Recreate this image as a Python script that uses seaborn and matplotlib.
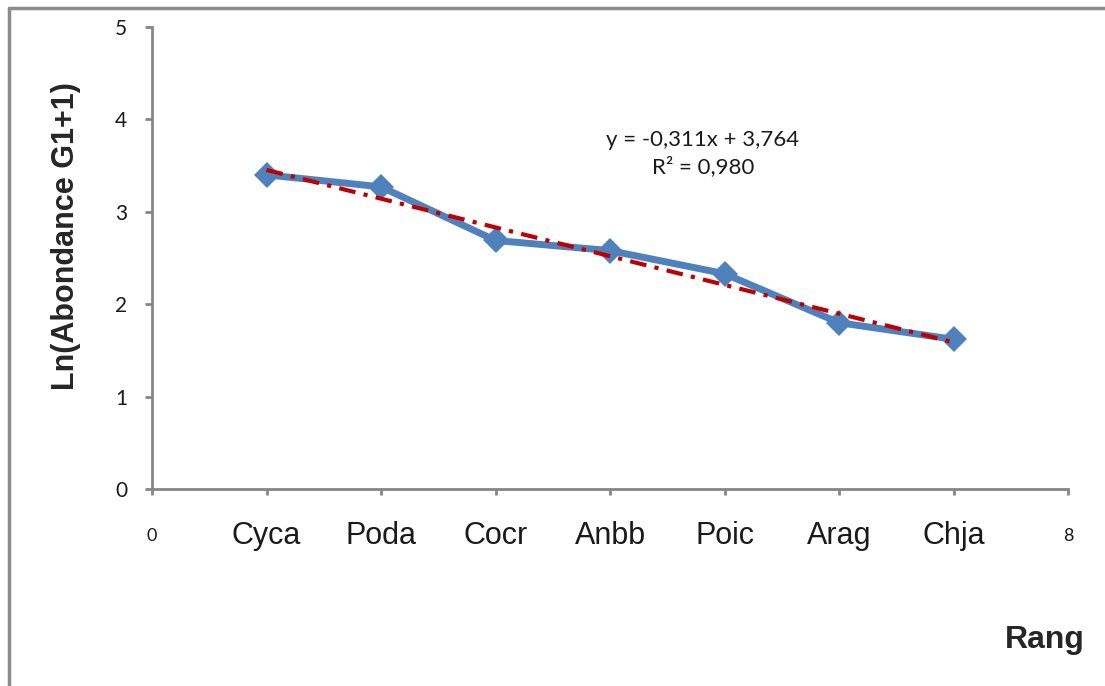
import matplotlib
matplotlib.use("Agg")
import matplotlib.pyplot as plt
from matplotlib.lines import Line2D
import numpy as np
import pandas as pd
import seaborn as sns

# Species ranked by abundance and their log-transformed abundance
species = ["Cyca", "Poda", "Cocr", "Anbb", "Poic", "Arag", "Chja"]
rang = [1, 2, 3, 4, 5, 6, 7]
ln_abondance = [3.40, 3.27, 2.69, 2.58, 2.33, 1.80, 1.62]

# Linear trend coefficients as reported on the chart
slope = -0.311
intercept = 3.764
r2 = 0.980

# Axis tick labels: numeric ends with species names in between
xtick_pos = [0, 1, 2, 3, 4, 5, 6, 7, 8]
xtick_labels = ["0"] + species + ["8"]
ytick_pos = [0, 1, 2, 3, 4, 5]

df = pd.DataFrame({"rang": rang, "val": ln_abondance, "species": species})
trend = pd.DataFrame({"rang": rang})
trend["fit"] = slope * trend["rang"] + intercept

sns.set_theme(style="white")
plt.rcParams["font.family"] = ["Liberation Sans", "DejaVu Sans"]

fig = plt.figure(figsize=(11.05, 6.86), dpi=100)
ax = fig.add_axes([152 / 1105, 1 - 489 / 686, 916 / 1105, 462 / 686])

blue = "#4F81BD"
red = "#C00000"
grey = "#868686"

sns.lineplot(data=df, x="rang", y="val", ax=ax, color=blue, linewidth=5,
             marker="D", markersize=13, markeredgewidth=0,
             markerfacecolor=blue, zorder=3)
sns.lineplot(data=trend, x="rang", y="fit", ax=ax, color=red, linewidth=3,
             zorder=4)
ax.lines[-1].set_dashes((4, 2, 1, 2))

ax.set_xlim(0, 8)
ax.set_ylim(0, 5)
ax.set_xlabel("")
ax.set_ylabel("")

for side in ["top", "right"]:
    ax.spines[side].set_visible(False)
for side in ["left", "bottom"]:
    ax.spines[side].set_color(grey)
    ax.spines[side].set_linewidth(2)

ax.set_xticks(xtick_pos)
ax.set_xticklabels(xtick_labels)
ax.set_yticks(ytick_pos)
ax.set_yticklabels([str(v) for v in ytick_pos])

ax.tick_params(axis="x", direction="out", length=4, width=2, color=grey,
               pad=30, labelsize=22, labelcolor="#1a1a1a", bottom=True)
ax.tick_params(axis="y", direction="out", length=5, width=2, color=grey,
               pad=13, labelsize=15, labelcolor="#1a1a1a", left=True)
for lbl in ax.get_xticklabels():
    lbl.set_va("center")
xl = ax.get_xticklabels()
for lbl in (xl[0], xl[-1]):
    lbl.set_fontsize(13)
    lbl.set_family(["Lato", "DejaVu Sans"])
for lbl in ax.get_yticklabels():
    lbl.set_family(["Lato", "DejaVu Sans"])

ax.text(4.81, 3.63,
        f"y = {slope:.3f}x + {intercept:.3f}".replace(".", ",") + "\n"
        + f"R² = {r2:.3f}".replace(".", ","),
        ha="center", va="center", fontsize=16, linespacing=1.35,
        family=["Lato", "DejaVu Sans"], color="#1a1a1a")

fig.text(66 / 1105, 1 - 236 / 686, "Ln(Abondance G1+1)", rotation=90,
         ha="center", va="center", fontsize=22, fontweight="bold")
fig.text(1045 / 1105, 1 - 640 / 686, "Rang", ha="center", va="center",
         fontsize=23, fontweight="bold")

# Outer chart frame (top and left edges visible)
fig.add_artist(Line2D([9 / 1105, 9 / 1105], [0, 1 - 8 / 686],
                      transform=fig.transFigure, color="#8c8c8c", lw=2.5))
fig.add_artist(Line2D([9 / 1105, 1], [1 - 8 / 686, 1 - 8 / 686],
                      transform=fig.transFigure, color="#8c8c8c", lw=2.5))

fig.savefig("out.png", dpi=100, facecolor="white")
